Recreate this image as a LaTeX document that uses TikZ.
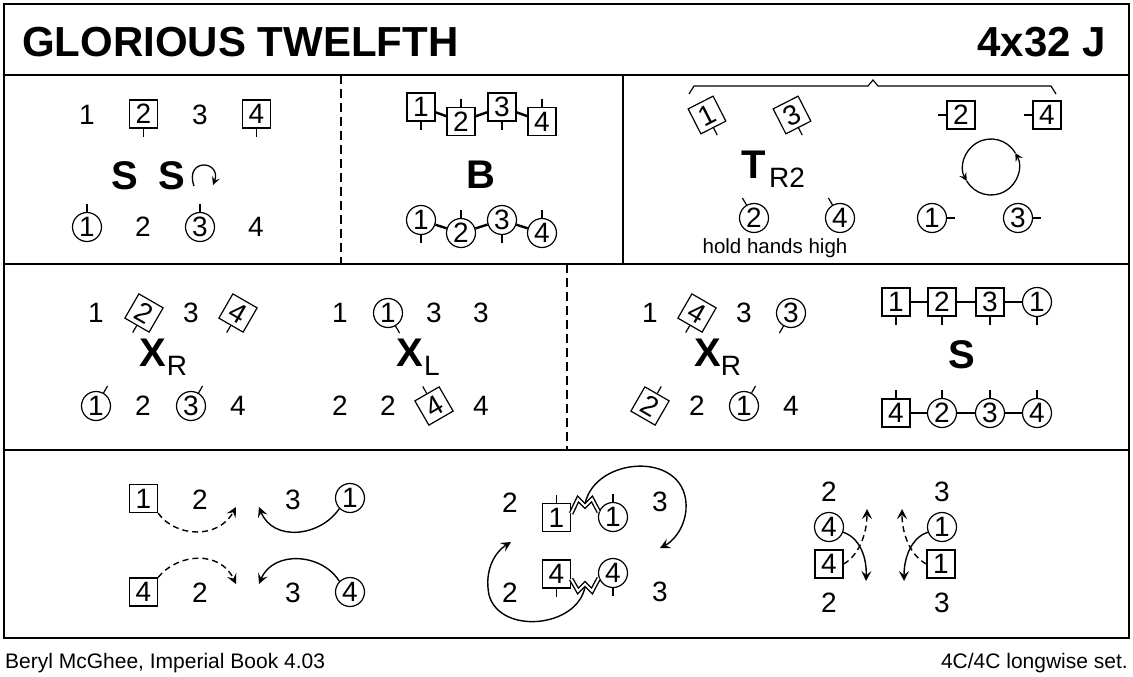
\documentclass[tikz,border=0pt]{standalone}
\usepackage{fontspec}
\setmainfont{Liberation Sans}
\usetikzlibrary{arrows.meta,calc}
\newcommand\dtick[2]{\draw[tkl] (#1.#2) -- ($(#1.#2)!-8pt!(#1.center)$);}
\begin{document}
\begin{tikzpicture}[x=1pt,y=-1pt,
  num/.style={font=\fontsize{28}{30}\selectfont, inner sep=0pt},
  sq/.style={draw, line width=1.2pt, minimum size=28pt, inner sep=0pt, font=\fontsize{28}{30}\selectfont},
  ci/.style={draw, circle, line width=1.2pt, minimum size=29pt, inner sep=0pt, font=\fontsize{28}{30}\selectfont},
  big/.style={font=\fontsize{40}{42}\selectfont\bfseries, inner sep=0pt},
  tkl/.style={line width=1.2pt},
  frame/.style={line width=2pt},
  dsh/.style={line width=2pt, dash pattern=on 9pt off 5pt},
  hand/.style={line width=2.4pt},
  dbl/.style={line width=1.4pt, double=white, double distance=2pt, line join=miter},
  arr/.style={line width=1.4pt, -{Stealth[length=10pt,width=10pt,inset=4pt]}},
  darr/.style={arr, dash pattern=on 6pt off 4pt},
  sarr/.style={line width=1.3pt, -{Stealth[length=8pt,width=8pt,inset=3pt]}},
]
\useasboundingbox (0,0) rectangle (1133,677);
% frame
\draw[frame] (4,4) rectangle (1129,638);
\draw[frame] (4,75) -- (1129,75);
\draw[frame] (4,264) -- (1129,264);
\draw[frame] (4,450) -- (1129,450);
\draw[dsh] (341,75) -- (341,264);
\draw[frame] (623,75) -- (623,264);
\draw[dsh] (567,264) -- (567,450);
% title and footer
\node[anchor=base west, font=\fontsize{42}{44}\selectfont\bfseries, inner sep=0pt] (title) at (22,57) {GLORIOUS TWELFTH};
\node[anchor=base east, font=\fontsize{42}{44}\selectfont\bfseries, inner sep=0pt] (form) at (1106,57) {4x32 J};
\node[anchor=base west, font=\fontsize{21}{24}\selectfont, inner sep=0pt] (auth) at (5,668) {Beryl McGhee, Imperial Book 4.03};
\node[anchor=base east, font=\fontsize{21}{24}\selectfont, inner sep=0pt] (set) at (1128,668) {4C/4C longwise set.};

% ---- row 1, panel 1
\node[num] (a1) at (87,115) {1};
\node[sq] (a2) at (143.5,114) {2};
\node[num] (a3) at (200,115) {3};
\node[sq] (a4) at (256.5,114) {4};
\node[ci] (b1) at (87,227) {1};
\node[num] (b2) at (143,227) {2};
\node[ci] (b3) at (200,227) {3};
\node[num] (b4) at (256,227) {4};
\dtick{a2}{south}\dtick{a4}{south}\dtick{b1}{north}\dtick{b3}{north}
\node[big] (s1) at (124.5,176) {S};
\node[big] (s2) at (171.5,176) {S};
\draw[sarr] (194,186) .. controls (189,172) and (196,165) .. (204,165) .. controls (212,165) and (218,172) .. (213,185);

% ---- row 1, panel 2
\node[sq] (c1) at (421,107) {1};
\node[sq] (c2) at (461,121.5) {2};
\node[sq] (c3) at (502,107) {3};
\node[sq] (c4) at (542,121.5) {4};
\draw[hand] (c1) -- (c2); \draw[hand] (c2) -- (c3); \draw[hand] (c3) -- (c4);
\dtick{c1}{south}\dtick{c2}{north}\dtick{c3}{south}\dtick{c4}{north}
\node[big] (bb) at (481,175) {B};
\node[ci] (d1) at (421,220) {1};
\node[ci] (d2) at (461,233) {2};
\node[ci] (d3) at (502,220) {3};
\node[ci] (d4) at (542,233) {4};
\draw[hand] (d1) -- (d2); \draw[hand] (d2) -- (d3); \draw[hand] (d3) -- (d4);
\dtick{d1}{south}\dtick{d2}{north}\dtick{d3}{south}\dtick{d4}{north}

% ---- row 1, panel 3
\draw[tkl] (689,94) -- (694,86) -- (868,86) -- (873,80) -- (878,86) -- (1051,86) -- (1056,94);
\node[sq, rotate=27] (e1) at (707,115) {1};
\node[sq, rotate=27] (e3) at (792,115) {3};
\dtick{e1}{south}\dtick{e3}{south}
\node[big] (tt) at (754,165) {T};
\node[num] (tr) at (787,178) {R2};
\node[ci] (f2) at (754,218) {2};
\node[ci] (f4) at (840,218) {4};
\dtick{f2}{120}\dtick{f4}{120}
\node[anchor=base, font=\fontsize{20.5}{23}\selectfont, inner sep=0pt] (hh) at (775,253) {hold hands high};
\node[sq] (g2) at (961,115) {2};
\node[sq] (g4) at (1047,115) {4};
\dtick{g2}{west}\dtick{g4}{west}
\node[ci] (h1) at (932,218) {1};
\node[ci] (h3) at (1018,218) {3};
\dtick{h1}{east}\dtick{h3}{east}
\draw[sarr] (966.75,181) .. controls (974.5,194.4) and (991.6,199) .. (1005,191.25) .. controls (1018.4,183.5) and (1023,166.4) .. (1015.25,153);
\draw[sarr] (1015.25,153) .. controls (1007.5,139.6) and (990.4,135) .. (977,142.75) .. controls (963.6,150.5) and (959,167.6) .. (966.75,181);

% ---- row 2, left
\node[num] (i1) at (96,313) {1};
\node[sq, rotate=-30] (i2) at (144,313) {2};
\node[num] (i3) at (191,313) {3};
\node[sq, rotate=-30] (i4) at (238,313) {4};
\dtick{i2}{south}\dtick{i4}{south}
\node[big] (x1) at (153,353) {X};
\node[num] (x1s) at (177,366) {R};
\node[ci] (j1) at (96,406) {1};
\node[num] (j2) at (143,406) {2};
\node[ci] (j3) at (191,406) {3};
\node[num] (j4) at (238,406) {4};
\dtick{j1}{60}\dtick{j3}{60}
\node[num] (k1) at (340,313) {1};
\node[ci] (k2) at (388,313) {1};
\node[num] (k3) at (434,313) {3};
\node[num] (k4) at (481,313) {3};
\dtick{k2}{-60}
\node[big] (x2) at (410,353) {X};
\node[num] (x2s) at (432,366) {L};
\node[num] (l1) at (340,406) {2};
\node[num] (l2) at (388,406) {2};
\node[sq, rotate=30] (l3) at (434,406) {4};
\node[num] (l4) at (481,406) {4};
\dtick{l3}{north}

% ---- row 2, right
\node[num] (m1) at (650,313) {1};
\node[sq, rotate=-30] (m2) at (697,313) {4};
\node[num] (m3) at (744,313) {3};
\node[ci] (m4) at (791,313) {3};
\dtick{m2}{south}\dtick{m4}{240}
\node[big] (x3) at (708,353) {X};
\node[num] (x3s) at (731,366) {R};
\node[sq, rotate=-30] (n1) at (650,406) {2};
\node[num] (n2) at (697,406) {2};
\node[ci] (n3) at (744,406) {1};
\node[num] (n4) at (791,406) {4};
\dtick{n1}{north}\dtick{n3}{60}
\node[sq] (o1) at (896,302) {1};
\node[sq] (o2) at (942,302) {2};
\node[sq] (o3) at (990,302) {3};
\node[ci] (o4) at (1037,302) {1};
\draw[hand] (o1) -- (o2); \draw[hand] (o2) -- (o3); \draw[hand] (o3) -- (o4);
\dtick{o1}{south}\dtick{o2}{south}\dtick{o3}{south}\dtick{o4}{south}
\node[big] (s3) at (962,355) {S};
\node[sq] (p1) at (896,413) {4};
\node[ci] (p2) at (942,413) {2};
\node[ci] (p3) at (990,413) {3};
\node[ci] (p4) at (1037,413) {4};
\draw[hand] (p1) -- (p2); \draw[hand] (p2) -- (p3); \draw[hand] (p3) -- (p4);
\dtick{p1}{north}\dtick{p2}{north}\dtick{p3}{north}\dtick{p4}{north}

% ---- row 3, left
\node[sq] (q1) at (143.5,498.5) {1};
\node[num] (q2) at (200,500) {2};
\node[num] (q3) at (293,500) {3};
\node[ci] (q4) at (350,498) {1};
\node[sq] (r1) at (143.5,592) {4};
\node[num] (r2) at (200,593) {2};
\node[num] (r3) at (293,593) {3};
\node[ci] (r4) at (350,592) {4};
\coordinate (qa) at (236,507);
\coordinate (qb) at (259,507);
\coordinate (ra) at (236,584);
\coordinate (rb) at (259,584);
\draw[darr] (q1.south east) .. controls (175,537) and (218,540) .. (qa);
\draw[arr] (q4.225) .. controls (320,537) and (273,542) .. (qb);
\draw[darr] (r1.north east) .. controls (178,553) and (220,550) .. (ra);
\draw[arr] (r4.135) .. controls (322,553) and (273,550) .. (rb);

% ---- row 3, middle
\node[num] (t1) at (510,503) {2};
\node[num] (t2) at (660,502) {3};
\node[sq] (u1) at (556.5,517.5) {1};
\node[ci] (u2) at (613,517) {1};
\dtick{u1}{north}\dtick{u2}{north}
\node[sq] (v1) at (556.5,574) {4};
\node[ci] (v2) at (613,573) {4};
\dtick{v1}{south}\dtick{v2}{south}
\node[num] (w1) at (510,593) {2};
\node[num] (w2) at (660,592) {3};
\draw[dbl] ([yshift=4pt]u1.east) -- (578,499) -- (585,506) -- (592,499) -- (u2.160);
\draw[dbl] ([yshift=-5pt]v1.east) -- (578,591) -- (585,584) -- (592,591) -- (v2.200);
\coordinate (za) at (585,504);
\coordinate (zb) at (660,548);
\coordinate (zc) at (585,587);
\coordinate (zd) at (511,542);
\draw[arr] (za) .. controls (595,455) and (690,450) .. (686,510) .. controls (684,530) and (672,542) .. (zb);
\draw[arr] (zc) .. controls (577,628) and (500,635) .. (489,595) .. controls (484,570) and (495,552) .. (zd);

% ---- row 3, right
\node[num] (y1) at (829,492) {2};
\node[num] (y2) at (942,492) {3};
\node[ci] (y3) at (829,527) {4};
\node[sq] (y4) at (829,564) {4};
\node[ci] (y5) at (942,527) {1};
\node[sq] (y6) at (941,564) {1};
\node[num] (y7) at (829,603) {2};
\node[num] (y8) at (942,603) {3};
\coordinate (ya) at (866,581);
\coordinate (yb) at (867,509);
\coordinate (yc) at (904,581);
\coordinate (yd) at (902,509);
\draw[arr] (y3.-20) .. controls (858,537) and (867,555) .. (ya);
\draw[darr] (y4.east) .. controls (858,556) and (867,535) .. (yb);
\draw[arr] (y5.200) .. controls (913,537) and (904,555) .. (yc);
\draw[darr] (y6.west) .. controls (911,556) and (902,535) .. (yd);
\end{tikzpicture}
\end{document}
